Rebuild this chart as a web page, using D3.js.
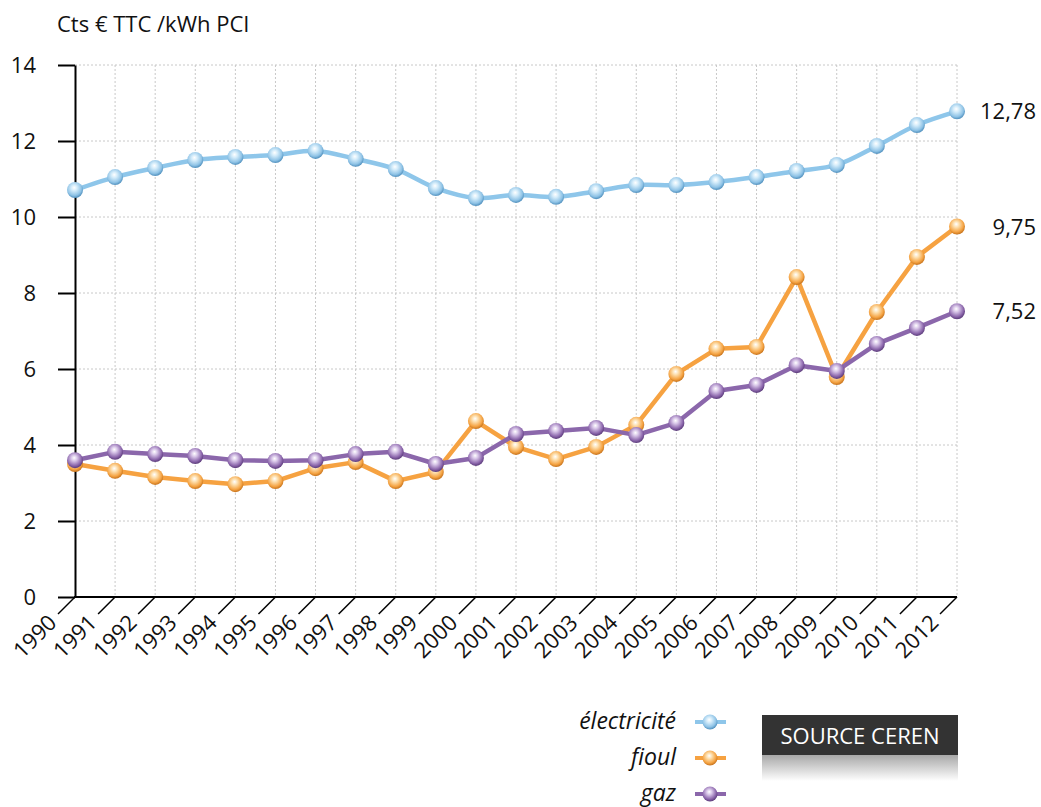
<!DOCTYPE html>
<html>
<head>
<meta charset="utf-8">
<script src="https://cdn.jsdelivr.net/npm/d3@7"></script>
<style>
  body { margin: 0; background: #fff; }
  svg { font-family: "Open Sans", "Noto Sans", sans-serif; }
</style>
</head>
<body>
<svg id="chart" width="1041" height="807"></svg>
<script>
const years = d3.range(1990, 2013);
const electricite = [10.71, 11.05, 11.29, 11.5, 11.58, 11.63, 11.74, 11.53, 11.26, 10.76, 10.5, 10.58,
  10.53, 10.68, 10.84, 10.84, 10.92, 11.05, 11.21, 11.37, 11.87, 12.42, 12.78];
const fioul = [3.5, 3.32, 3.16, 3.05, 2.97, 3.05, 3.39, 3.55, 3.05, 3.29, 4.63, 3.95,
  3.63, 3.95, 4.53, 5.87, 6.53, 6.58, 8.42, 5.79, 7.5, 8.95, 9.75];
const gaz = [3.6, 3.82, 3.76, 3.71, 3.6, 3.58, 3.6, 3.76, 3.82, 3.5, 3.66, 4.29,
  4.37, 4.45, 4.26, 4.58, 5.42, 5.58, 6.1, 5.95, 6.66, 7.08, 7.52];
const yTicks = [0, 2, 4, 6, 8, 10, 12, 14];
const endLabels = ["12,78", "9,75", "7,52"];

const series = [
  { name: "électricité", values: electricite, line: "#8ec6ea", light: "#d4ecfa", mid: "#8fc3e6", dark: "#4f8fbd", curve: d3.curveCatmullRom, label: endLabels[0] },
  { name: "fioul", values: fioul, line: "#f6a241", light: "#fde0b0", mid: "#f5a444", dark: "#c7731c", curve: d3.curveLinear, label: endLabels[1] },
  { name: "gaz", values: gaz, line: "#8b67ab", light: "#d8c6e8", mid: "#8d68ad", dark: "#5b3b7a", curve: d3.curveLinear, label: endLabels[2] }
];

const svg = d3.select("#chart");
const x = d3.scaleLinear().domain([1990, 2012]).range([75, 957]);
const y = d3.scaleLinear().domain([0, 14]).range([597, 65]);

// gradients for the ball markers
const defs = svg.append("defs");
series.forEach((s, i) => {
  const g = defs.append("radialGradient").attr("id", "ball" + i)
    .attr("cx", "45%").attr("cy", "40%").attr("r", "60%").attr("fx", "45%").attr("fy", "35%");
  g.append("stop").attr("offset", "0%").attr("stop-color", "#ffffff");
  g.append("stop").attr("offset", "30%").attr("stop-color", s.light);
  g.append("stop").attr("offset", "75%").attr("stop-color", s.mid);
  g.append("stop").attr("offset", "100%").attr("stop-color", s.dark);
});
const shadow = defs.append("linearGradient").attr("id", "shadow")
  .attr("x1", 0).attr("y1", 0).attr("x2", 0).attr("y2", 1);
shadow.append("stop").attr("offset", "0%").attr("stop-color", "#a8a8a8");
shadow.append("stop").attr("offset", "100%").attr("stop-color", "#ffffff");

// grid
const grid = svg.append("g").attr("stroke", "#c8c8c8").attr("stroke-width", 1).attr("stroke-dasharray", "2,2");
grid.selectAll(".vg").data(years.slice(1)).join("line")
  .attr("x1", d => x(d)).attr("x2", d => x(d)).attr("y1", y(14)).attr("y2", y(0));
grid.selectAll(".hg").data(yTicks.slice(1)).join("line")
  .attr("x1", x(1990)).attr("x2", x(2012)).attr("y1", d => y(d)).attr("y2", d => y(d));

// y axis
const yAxis = svg.append("g").attr("transform", `translate(${x(1990)},0)`)
  .call(d3.axisLeft(y).tickValues(yTicks).tickSize(17).tickPadding(22).tickSizeOuter(0));
yAxis.select(".domain").attr("stroke", "#000").attr("stroke-width", 2);
yAxis.selectAll(".tick line").attr("stroke", "#000").attr("stroke-width", 2);
yAxis.selectAll(".tick text").attr("font-size", 22).attr("fill", "#111")
  .attr("font-family", "'Open Sans', sans-serif");

// x axis with slanted ticks
const xAxis = svg.append("g");
xAxis.append("line").attr("x1", x(1990) - 1).attr("x2", x(2012)).attr("y1", y(0)).attr("y2", y(0))
  .attr("stroke", "#000").attr("stroke-width", 2);
xAxis.selectAll(".xt").data(years).join("line")
  .attr("x1", d => x(d)).attr("y1", y(0))
  .attr("x2", d => x(d) - 17).attr("y2", y(0) + 17)
  .attr("stroke", "#000").attr("stroke-width", 1.5);
xAxis.selectAll(".xl").data(years).join("text")
  .attr("transform", d => `translate(${x(d) - 17},${y(0) + 27}) rotate(-45)`)
  .attr("text-anchor", "end").attr("font-size", 22).attr("fill", "#111")
  .text(d => d);

// title
svg.append("text").attr("x", 57).attr("y", 32).attr("font-size", 22).attr("fill", "#111")
  .text("Cts € TTC /kWh PCI");

// lines and markers
series.forEach((s, i) => {
  const line = d3.line().x((d, j) => x(years[j])).y(d => y(d)).curve(s.curve);
  svg.append("path").datum(s.values).attr("d", line)
    .attr("fill", "none").attr("stroke", s.line).attr("stroke-width", 4.5)
    .attr("stroke-linejoin", "round");
});
series.forEach((s, i) => {
  svg.append("g").selectAll("circle").data(s.values).join("circle")
    .attr("cx", (d, j) => x(years[j])).attr("cy", d => y(d)).attr("r", 8)
    .attr("fill", `url(#ball${i})`);
});

// end labels
svg.append("g").selectAll("text").data(series).join("text")
  .attr("x", 1036).attr("y", d => y(d.values[d.values.length - 1]) + 8)
  .attr("text-anchor", "end").attr("font-size", 22).attr("fill", "#111")
  .text(d => d.label);

// legend
const legend = svg.append("g");
series.forEach((s, i) => {
  const ly = 722 + i * 36;
  legend.append("text").attr("x", 676).attr("y", ly + 7).attr("text-anchor", "end")
    .attr("font-size", 23).attr("font-style", "italic").attr("fill", "#111").text(s.name);
  legend.append("line").attr("x1", 695).attr("x2", 726).attr("y1", ly).attr("y2", ly)
    .attr("stroke", s.line).attr("stroke-width", 4);
  legend.append("circle").attr("cx", 710).attr("cy", ly).attr("r", 7.5).attr("fill", `url(#ball${i})`);
});

// source box
svg.append("rect").attr("x", 762).attr("y", 755).attr("width", 196).attr("height", 26).attr("fill", "url(#shadow)");
svg.append("rect").attr("x", 762).attr("y", 715).attr("width", 196).attr("height", 40).attr("fill", "#333333");
svg.append("text").attr("x", 860).attr("y", 744).attr("text-anchor", "middle")
  .attr("font-size", 22).attr("fill", "#fff").text("SOURCE CEREN");
</script>
</body>
</html>
